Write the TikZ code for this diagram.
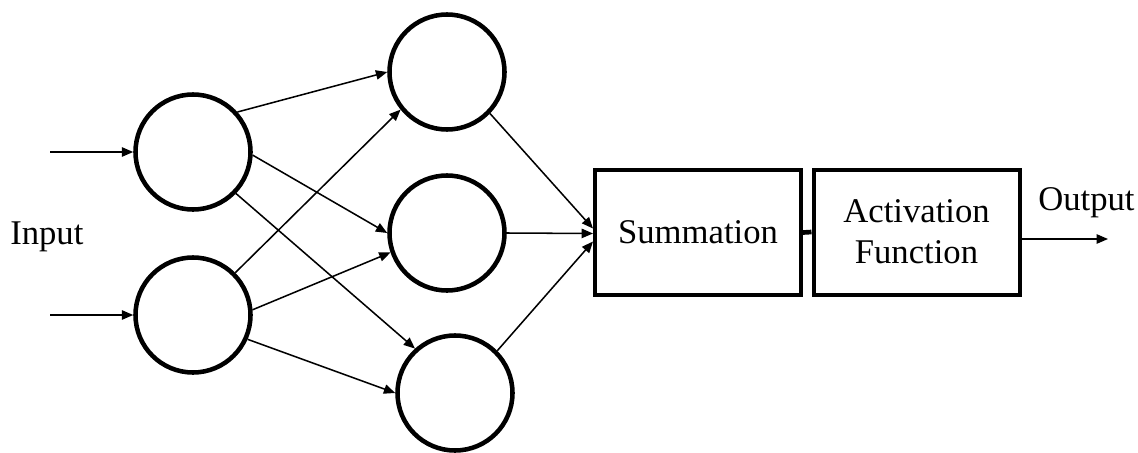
\documentclass[tikz,border=0pt]{standalone}
\usepackage{fontspec}
\setmainfont{Liberation Serif}
\usetikzlibrary{arrows.meta,calc}
\begin{document}
\begin{tikzpicture}[x=0.75pt,y=-0.75pt,
  neuron/.style={circle,draw,line width=3.4pt,minimum size=86.25pt,inner sep=0pt},
  block/.style={rectangle,draw,line width=3pt,minimum width=154.5pt,minimum height=93.75pt,inner sep=0pt,align=center,font=\fontsize{26}{30.75}\selectfont},
  lbl/.style={font=\fontsize{26}{30.75}\selectfont,inner sep=0pt},
  conn/.style={line width=1.15pt,-{Triangle[length=8.5pt,width=7pt]}}]
\useasboundingbox (0,0) rectangle (1138,453);
\node[neuron] (i1) at (193,152) {};
\node[neuron] (i2) at (193,315) {};
\node[neuron] (h1) at (447,72) {};
\node[neuron] (h2) at (447,233) {};
\node[neuron] (h3) at (455,393) {};
\node[block] (sum) at (698,232.5) {Summation};
\node[block] (act) at (916.5,232) {Activation\\Function};
\node[lbl,anchor=base west] (in) at (10,244) {Input};
\node[lbl,anchor=base west] (out) at (1038,210) {Output};
\coordinate (s1) at (50,152);
\coordinate (s2) at (50,315);
\coordinate (o1) at (1108,239);
\draw[conn] (s1) -- (i1.west);
\draw[conn] (s2) -- (i2.west);
\draw[conn] (i1.42) -- (h1.west);
\draw[conn] (i1.-3) -- (h2.west);
\draw[conn] (i1.-44) -- (h3.132);
\draw[conn] (i2.45) -- (h1.-141);
\draw[conn] (i2.5) -- (h2.-161);
\draw[conn] (i2.-24) -- (h3.west);
\draw[conn] (h1.-44) -- ($(sum.west)+(0,-4)$);
\draw[conn] (h2.east) -- ($(sum.west)+(0,1)$);
\draw[conn] (h3.45) -- ($(sum.west)+(0,9)$);
\draw[line width=3.5pt] (sum.east) -- (act.west);
\draw[conn] ($(act.east)+(0,7)$) -- (o1);
\end{tikzpicture}
\end{document}
